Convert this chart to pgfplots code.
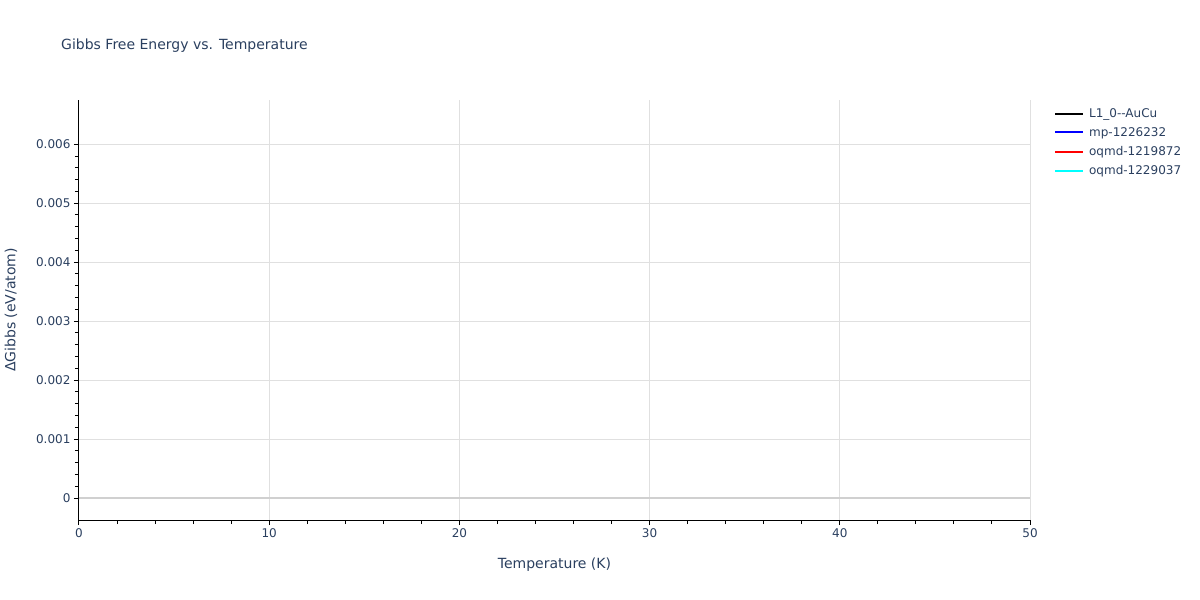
\documentclass[border=0pt]{standalone}
\usepackage{pgfplots}
\pgfplotsset{compat=1.18}
\usepackage{fontspec}
\setmainfont{DejaVu Sans}
\definecolor{txt}{HTML}{2A3F5F}
\definecolor{gridc}{HTML}{E0E0E0}
\definecolor{zeroc}{HTML}{D0D0D0}
\definecolor{cy}{HTML}{00FFFF}
\definecolor{bl}{HTML}{0000FF}
\definecolor{rd}{HTML}{FF0000}
\begin{document}
\begin{tikzpicture}
\path[use as bounding box] (0pt,0pt) rectangle (1200pt,600pt);
\node[anchor=base west,inner sep=0pt,text=txt,font=\fontsize{14}{16}\selectfont] at (61pt,550pt) {Gibbs Free Energy vs. Temperature};
\begin{axis}[
  at={(79pt,80pt)}, anchor=south west,
  scale only axis, width=951pt, height=420pt,
  xmin=0, xmax=50, ymin=-0.000373, ymax=0.00675,
  xtick={0,10,20,30,40,50},
  ytick={0,0.001,0.002,0.003,0.004,0.005,0.006},
  yticklabels={0,0.001,0.002,0.003,0.004,0.005,0.006},
  scaled y ticks=false,
  minor x tick num=4, minor y tick num=4,
  axis x line*=bottom, axis y line*=left,
  axis line style={black,line width=1pt,-},
  tick align=outside,
  major tick length=5pt, minor tick length=4pt,
  every tick/.style={black,line width=1pt},
  xmajorgrids, ymajorgrids,
  major grid style={gridc,line width=1pt},
  tick label style={text=txt,font=\fontsize{12}{14}\selectfont},
  /pgf/number format/assume math mode=true,
  xlabel={Temperature (K)}, ylabel={ΔGibbs (eV/atom)},
  label style={text=txt,font=\fontsize{14}{16}\selectfont},
  xlabel style={yshift=-13pt},
  ylabel style={yshift=12pt},
  legend style={at={(1.022,0.99)},anchor=north west,draw=none,fill=none,
    font=\fontsize{12}{14}\selectfont,text=txt,row sep=4.5pt,
    /tikz/every odd column/.append style={column sep=3pt}},
  legend cell align=left,
  legend image code/.code={\draw[#1] (0pt,0pt) -- (28pt,0pt);},
  clip=false,
]
\draw[zeroc,line width=2pt] (axis cs:0,0) -- (axis cs:50,0);
\addlegendimage{black,line width=2pt}
\addlegendentry{L1\_0-{}-AuCu}
\addlegendimage{bl,line width=2pt}
\addlegendentry{mp-1226232}
\addlegendimage{rd,line width=2pt}
\addlegendentry{oqmd-1219872}
\addlegendimage{cy,line width=2pt}
\addlegendentry{oqmd-1229037}
\end{axis}
\end{tikzpicture}
\end{document}
